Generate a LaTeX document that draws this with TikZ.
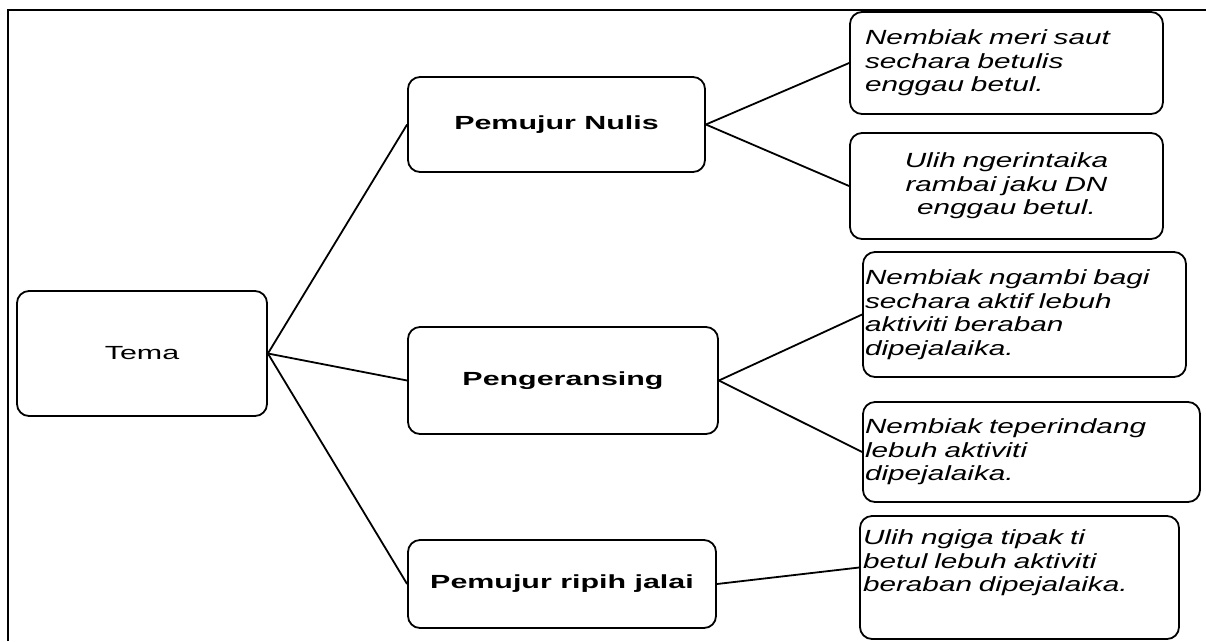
\documentclass[tikz,border=0pt]{standalone}
\usepackage{fontspec}
\setmainfont{Liberation Sans}[FakeStretch=1.6]
\newfontfamily\notefont{Liberation Sans}[FakeStretch=1.45]
\usepackage{tikz}

\begin{document}
\begin{tikzpicture}[
  x=1pt, y=-1pt,
  box/.style={draw, line width=1.8pt, rounded corners=12pt, inner sep=0pt,
    font=\fontsize{19}{23}\selectfont},
  topic/.style={box, font=\fontsize{19}{23}\selectfont\bfseries},
  note/.style={box, align=left, font=\notefont\fontsize{20.5}{23.5}\selectfont\itshape},
  link/.style={line width=1.8pt},
]
\useasboundingbox (0,0) rectangle (1206,641);
\draw [line width=2.6pt] (8,641) |- (1206,10);

\node (tema) at (142,353.5) [box, minimum width=250, minimum height=125] {Tema};

\node (nulis) at (556.5,124.5) [topic, minimum width=297, minimum height=95] {Pemujur Nulis};
\node (ransing) at (563,380.5) [topic, minimum width=310, minimum height=107] {Pengeransing};
\node (jalai) at (562,584) [topic, minimum width=308, minimum height=88] {Pemujur ripih jalai};

% notes on the right
\node (saut) at (1006.5,63) [note, minimum width=313, minimum height=102, text width=283]
  {Nembiak meri saut\\sechara betulis\\enggau betul.};
\node (jaku) at (1006.5,186) [note, align=center, minimum width=313, minimum height=106, text width=283]
  {Ulih ngerintaika\\rambai jaku DN\\enggau betul.};
\node (bagi) at (1024.5,314.5) [note, minimum width=323, minimum height=125, text width=319]
  {Nembiak ngambi bagi\\sechara aktif lebuh\\aktiviti beraban\\dipejalaika.};
\node (rindang) at (1031.5,452) [note, minimum width=337, minimum height=100, text width=333]
  {Nembiak teperindang\\lebuh aktiviti\\dipejalaika.};
\node (tipak) at (1019.5,577.5) [note, minimum width=319, minimum height=123, text width=313]
  {Ulih ngiga tipak ti\\betul lebuh aktiviti\\beraban dipejalaika.\\[10pt]\mbox{}};

% connectors
\draw [link] (tema.east) -- (nulis.west);
\draw [link] (tema.east) -- (ransing.west);
\draw [link] (tema.east) -- (jalai.west);
\draw [link] (nulis.east) -- (saut.west);
\draw [link] (nulis.east) -- (jaku.west);
\draw [link] (ransing.east) -- (bagi.west);
\draw [link] (ransing.east) -- (rindang.west);
\draw [link] (jalai.east) -- ([yshift=10pt]tipak.west);
\end{tikzpicture}
\end{document}
